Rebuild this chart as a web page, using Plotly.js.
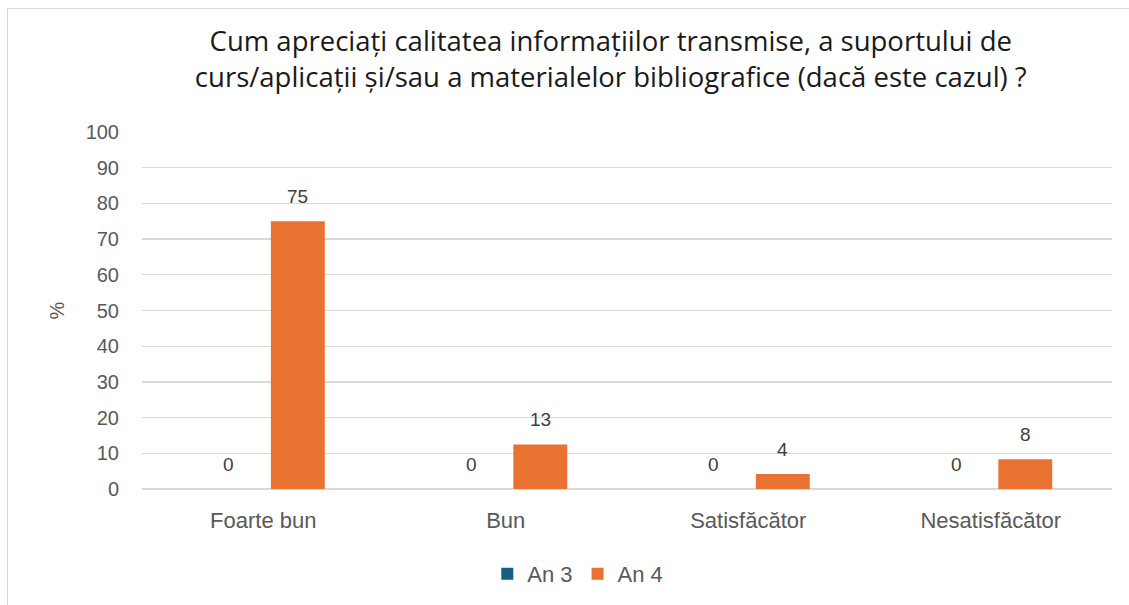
<!DOCTYPE html>
<html>
<head>
<meta charset="utf-8">
<script src="https://cdn.plot.ly/plotly-3.0.1.min.js"></script>
<style>
  html, body { margin: 0; padding: 0; background: #fff; }
  #wrap { position: relative; width: 1129px; height: 605px; overflow: hidden; }
  #frame { position: absolute; left: 7px; top: 8px; width: 1140px; height: 620px; border: 1px solid #d9d9d9; box-sizing: border-box; }
  #chart { position: absolute; left: 0; top: 0; width: 1129px; height: 605px; }
</style>
</head>
<body>
<div id="wrap">
  <div id="frame"></div>
  <div id="chart"></div>
</div>
<script>
const titleLines = ["Cum apreciați calitatea informațiilor transmise, a suportului de", "curs/aplicații și/sau a materialelor bibliografice (dacă este cazul) ?"];
const categories = ["Foarte bun", "Bun", "Satisfăcător", "Nesatisfăcător"];
const seriesNames = ["An 3", "An 4"];
const an3 = [0, 0, 0, 0];
const an4 = [75, 12.5, 4.2, 8.3];
const yTicks = [0, 10, 20, 30, 40, 50, 60, 70, 80, 90, 100];

const FONT = "Liberation Sans, Arial, sans-serif";
const TFONT = "Open Sans, Liberation Sans, Arial, sans-serif";
const GREY = "#595959";
const colors = ["#156082", "#E97132"];

const traces = [an3, an4].map((vals, k) => ({
  type: "bar",
  name: seriesNames[k],
  x: categories,
  y: vals,
  marker: { color: colors[k] },
  hoverinfo: "x+y+name"
}));

const annotations = [];
[an3, an4].forEach((vals, k) => {
  vals.forEach((v, i) => {
    annotations.push({
      x: categories[i], y: v, xref: "x", yref: "y",
      text: String(Math.round(v)),
      showarrow: false,
      xshift: k === 0 ? -34.5 : 34.5,
      yshift: 12,
      yanchor: "bottom",
      font: { family: FONT, size: 19, color: "#404040" }
    });
  });
});

const layout = {
  width: 1129, height: 605,
  paper_bgcolor: "rgba(0,0,0,0)",
  plot_bgcolor: "rgba(0,0,0,0)",
  margin: { l: 142, r: 17, t: 132, b: 116, autoexpand: false },
  title: {
    text: titleLines.join("<br>"),
    font: { family: TFONT, size: 27.5, color: "#1a1a1a" },
    x: 0.541, xanchor: "center",
    y: 0.915, yanchor: "top"
  },
  barmode: "group",
  bargap: 0.43,
  bargroupgap: 0.22,
  xaxis: {
    type: "category",
    tickfont: { family: FONT, size: 22, color: GREY },
    showline: false, ticks: "", showgrid: false,
    ticklabelstandoff: 16
  },
  yaxis: {
    range: [0, 100],
    tickvals: yTicks,
    ticktext: yTicks.map(String),
    tickfont: { family: FONT, size: 20, color: GREY },
    gridcolor: "#d9d9d9", gridwidth: 1.3,
    zeroline: true, zerolinecolor: "#d9d9d9", zerolinewidth: 1.3,
    ticks: "", ticklabelstandoff: 22,
    title: { text: "%", font: { family: FONT, size: 20, color: GREY }, standoff: 15 }
  },
  showlegend: true,
  legend: {
    orientation: "h",
    x: 0.356, xanchor: "left",
    y: -0.238, yanchor: "middle",
    font: { family: FONT, size: 22, color: GREY },
    itemwidth: 30,
    traceorder: "normal"
  },
  annotations: annotations
};

Plotly.newPlot("chart", traces, layout, { displayModeBar: false, staticPlot: true });
</script>
</body>
</html>
